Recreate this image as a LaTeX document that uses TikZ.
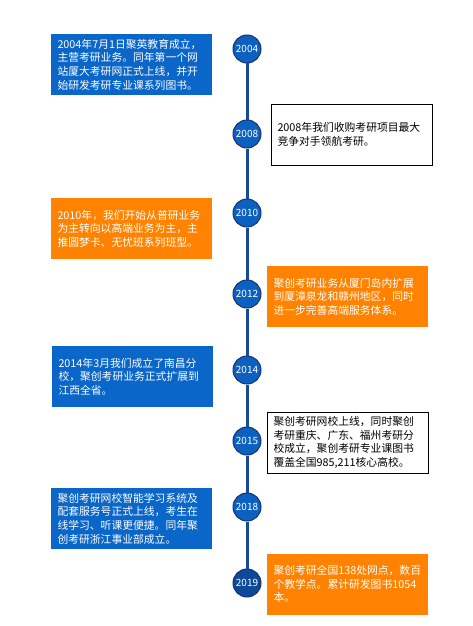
\documentclass[tikz,border=0pt]{standalone}
\usepackage{fontspec}
\setmainfont{Noto Sans CJK SC}
\newfontfamily\cjk{Noto Sans CJK SC}
\definecolor{boxblue}{RGB}{10,102,200}
\definecolor{boxorange}{RGB}{255,130,0}
\definecolor{circblue}{RGB}{12,96,192}
\definecolor{circdark}{RGB}{14,72,152}
\definecolor{navyline}{RGB}{22,52,112}
\definecolor{tlblue}{RGB}{24,74,150}
\begin{document}
\begin{tikzpicture}[x=1pt,y=-1pt,
  yr/.style={circle, draw=navyline, line width=1pt, fill=circblue, text=white, minimum size=28pt, inner sep=0pt, font=\cjk\fontsize{10}{12}\selectfont},
  evt/.style={rectangle, text width=148pt, inner xsep=6.5pt, inner ysep=0pt, minimum height=61pt, align=left, font=\cjk\fontsize{10.8}{13.6}\selectfont},
  blueevt/.style={evt, fill=boxblue, text=white},
  orangeevt/.style={evt, fill=boxorange, text=white},
  plainevt/.style={evt, draw=black, line width=1pt, fill=white, text=black},
  tline/.style={tlblue, line width=3pt}]
\fill[white] (0,0) rectangle (473,626);
\useasboundingbox (0,0) rectangle (473,626);
% years on the time line
\node[yr] (y04) at (247,49) {2004};
\node[yr] (y08) at (247,134) {2008};
\node[yr] (y10) at (247,213) {2010};
\node[yr] (y12) at (247,294) {2012};
\node[yr] (y14) at (247,370) {2014};
\node[yr] (y15) at (247,441) {2015};
\node[yr] (y18) at (247,507) {2018};
\node[yr, fill=circdark] (y19) at (247,583) {2019};
\draw[tline] (y04) -- (y08);
\draw[tline] (y08) -- (y10);
\draw[tline] (y10) -- (y12);
\draw[tline] (y12) -- (y14);
\draw[tline] (y14) -- (y15);
\draw[tline] (y15) -- (y18);
\draw[tline] (y18) -- (y19);
% events
\node[blueevt] (e04) at (131.5,64.5) {2004年7月1日聚英教育成立，\\主营考研业务。同年第一个网\\站厦大考研网正式上线，并开\\始研发考研专业课系列图书。};
\node[plainevt] (e08) at (351.5,134.5) {2008年我们收购考研项目最大\\竞争对手领航考研。};
\node[orangeevt] (e10) at (131.5,228.5) {2010年，我们开始从普研业务\\为主转向以高端业务为主，主\\推圆梦卡、无忧班系列班型。};
\node[orangeevt] (e12) at (347.5,296.5) {聚创考研业务从厦门岛内扩展\\到厦漳泉龙和赣州地区，同时\\进一步完善高端服务体系。};
\node[blueevt] (e14) at (132.5,376.5) {2014年3月我们成立了南昌分\\校，聚创考研业务正式扩展到\\江西全省。};
\node[plainevt] (e15) at (347.5,442.5) {聚创考研网校上线，同时聚创\\考研重庆、广东、福州考研分\\校成立，聚创考研专业课图书\\覆盖全国985,211核心高校。};
\node[blueevt] (e18) at (131.5,518.5) {聚创考研网校智能学习系统及\\配套服务号正式上线，考生在\\线学习、听课更便捷。同年聚\\创考研浙江事业部成立。};
\node[orangeevt] (e19) at (347.5,584) {聚创考研全国138处网点，数百\\个教学点。累计研发图书1054\\本。};
\end{tikzpicture}
\end{document}
